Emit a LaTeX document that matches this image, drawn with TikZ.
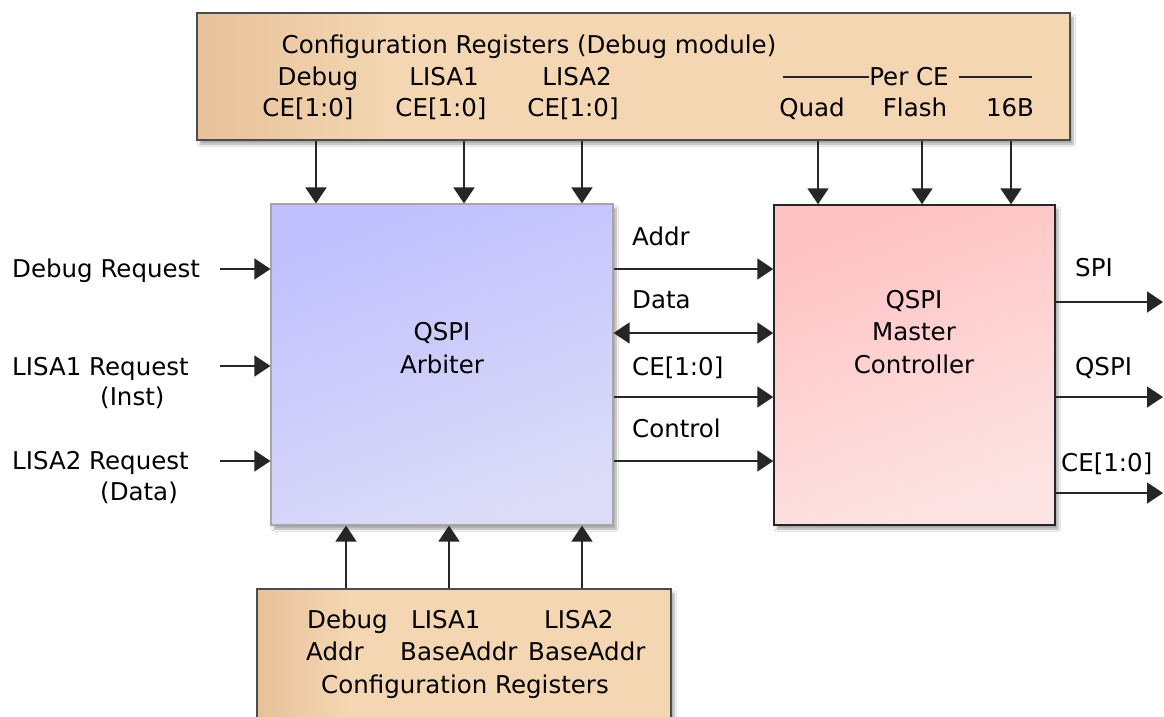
\documentclass[tikz,border=0pt]{standalone}
\usepackage{fontspec}
\setmainfont{DejaVu Sans}
\usetikzlibrary{arrows.meta,shadows.blur}
\definecolor{cfgA}{HTML}{E7C19A}
\definecolor{cfgB}{HTML}{F4D6B2}
\definecolor{arbA}{HTML}{C0C0FF}
\definecolor{arbB}{HTML}{DCDCF8}
\definecolor{mcA}{HTML}{FFC2C2}
\definecolor{mcB}{HTML}{FDE4E4}
\pgfdeclarehorizontalshading{cfgshade}{100bp}{color(0bp)=(cfgA); color(25bp)=(cfgA); color(36bp)=(cfgB); color(100bp)=(cfgB)}
\begin{document}
\begin{tikzpicture}[x=1pt,y=-1pt,
  font=\fontsize{24.5}{32}\selectfont,
  tipa/.style={-{Triangle[width=21pt,length=16pt]}},
  arr/.style={draw=black!85, line width=1.7pt, tipa},
  dbl/.style={draw=black!85, line width=1.7pt, {Triangle[width=21pt,length=16pt]}-{Triangle[width=21pt,length=16pt]}},
  lbl/.style={inner sep=0pt, anchor=base},
  lbll/.style={inner sep=0pt, anchor=base west},
  shad/.style={blur shadow={shadow xshift=3pt, shadow yshift=-4pt, shadow blur steps=6, shadow opacity=35}},
  cfg/.style={shad, draw=black!70, line width=1.5pt, shading=cfgshade, inner sep=0pt},
  arbbox/.style={shad, draw=black!35, line width=1.2pt, top color=arbA, bottom color=arbB, shading angle=20, inner sep=0pt},
  mcbox/.style={shad, draw=black!85, line width=1.5pt, top color=mcA, bottom color=mcB, shading angle=20, inner sep=0pt}
]
\useasboundingbox (0,0) rectangle (1164,717);
\fill[white] (0,0) rectangle (1164,717);

% boxes
\node[cfg, minimum width=873pt, minimum height=127pt] (top) at (633.5,76.5) {};
\node[arbbox, minimum width=342pt, minimum height=321pt] (arb) at (442,364.5) {};
\node[mcbox, minimum width=281pt, minimum height=320pt] (mc) at (914.5,365) {};
\node[cfg, minimum width=414pt, minimum height=135pt] (bot) at (464,656.5) {};

% top box texts
\node[lbl] (ttitle) at (529,54) {Configuration Registers (Debug module)};
\node[lbl] (tdbg) at (318,85) {Debug};
\node[lbl] (tdbgce) at (308,116) {CE[1:0]};
\node[lbl] (tl1) at (444,85) {LISA1};
\node[lbl] (tl1ce) at (441,116) {CE[1:0]};
\node[lbl] (tl2) at (577,85) {LISA2};
\node[lbl] (tl2ce) at (573,116) {CE[1:0]};
\node[lbl] (perce) at (909,85) {Per CE};
\node[lbl] (tquad) at (812,116) {Quad};
\node[lbl] (tflash) at (915,116) {Flash};
\node[lbl] (t16b) at (1010,116) {16B};
\coordinate (pl) at (783,77);
\coordinate (pr) at (1032,77);
\draw[line width=1.3pt, black!85] (pl) -- (pl -| perce.west);
\draw[line width=1.3pt, black!85] ([xshift=10pt]pr -| perce.east) -- (pr);

% block texts
\node[lbl] (arbt1) at (442,340) {QSPI};
\node[lbl] (arbt2) at (442,373) {Arbiter};
\node[lbl] (mct1) at (914,308) {QSPI};
\node[lbl] (mct2) at (914,340) {Master};
\node[lbl] (mct3) at (914,373) {Controller};

% bottom box texts
\node[lbll] (bdbg) at (307,628) {Debug};
\node[lbll] (baddr) at (306,660) {Addr};
\node[lbll] (bl1) at (411,628) {LISA1};
\node[lbll] (bl1a) at (400,660) {BaseAddr};
\node[lbll] (bl2) at (544,628) {LISA2};
\node[lbll] (bl2a) at (528,660) {BaseAddr};
\node[lbl] (btitle) at (465,693) {Configuration Registers};

% left labels
\node[lbll] (dreq) at (12,277) {Debug Request};
\node[lbll] (l1req) at (12,375) {LISA1 Request};
\node[lbll] (l1inst) at (100,405) {(Inst)};
\node[lbll] (l2req) at (12,469) {LISA2 Request};
\node[lbll] (l2data) at (100,500) {(Data)};

% middle labels
\node[lbll] (maddr) at (632,245) {Addr};
\node[lbll] (mdata) at (632,308) {Data};
\node[lbll] (mce) at (632,375) {CE[1:0]};
\node[lbll] (mctl) at (632,437) {Control};

% right labels
\node[lbll] (rspi) at (1075,276) {SPI};
\node[lbll] (rqspi) at (1075,375) {QSPI};
\node[lbll] (rce) at (1061,471) {CE[1:0]};

% coordinates for connector positions
\coordinate (t1) at (316,0);
\coordinate (t2) at (464,0);
\coordinate (t3) at (582,0);
\coordinate (t4) at (818,0);
\coordinate (t5) at (922,0);
\coordinate (t6) at (1011,0);
\coordinate (b1) at (346,0);
\coordinate (b2) at (449,0);
\coordinate (b3) at (582,0);
\coordinate (r1) at (0,269);
\coordinate (r2) at (0,333);
\coordinate (r3) at (0,397);
\coordinate (r4) at (0,461);
\coordinate (l1) at (220,269);
\coordinate (l2) at (220,366);
\coordinate (l3) at (220,461);
\coordinate (o1) at (1163,302);
\coordinate (o2) at (1163,397);
\coordinate (o3) at (1163,493);

% connectors
\foreach \c in {t1,t2,t3} \draw[arr] (\c |- top.south) -- (\c |- arb.north);
\foreach \c in {t4,t5,t6} \draw[arr] (\c |- top.south) -- (\c |- mc.north);
\foreach \c in {b1,b2,b3} \draw[arr] (\c |- bot.north) -- (\c |- arb.south);
\foreach \c in {r1,r3,r4} \draw[arr] (\c -| arb.east) -- (\c -| mc.west);
\draw[dbl] (r2 -| arb.east) -- (r2 -| mc.west);
\foreach \c in {l1,l2,l3} \draw[arr] (\c) -- (\c -| arb.west);
\foreach \c in {o1,o2,o3} \draw[arr] (\c -| mc.east) -- (\c);
\end{tikzpicture}
\end{document}
